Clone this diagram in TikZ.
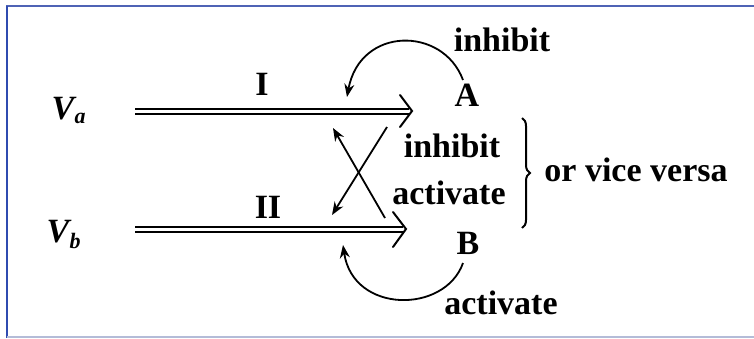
\documentclass[tikz,border=0pt]{standalone}
\usepackage{fontspec}
\setmainfont{Liberation Serif}
\usetikzlibrary{arrows.meta,decorations.pathreplacing}
\definecolor{frameblue}{HTML}{4F63B5}
\definecolor{frameleft}{HTML}{2F4BB0}
\definecolor{framelight}{HTML}{B4BCD8}
\tikzset{
  lbl/.style={inner sep=0pt, font=\fontsize{34}{40}\selectfont\bfseries},
  vlbl/.style={inner sep=0pt, font=\fontsize{34}{40}\selectfont\bfseries\itshape},
  sublbl/.style={inner sep=0pt, font=\fontsize{22}{26}\selectfont\bfseries\itshape},
  dblline/.style={draw=black, line width=2pt, double=white, double distance=3pt},
  barb/.style={line width=2pt, line join=miter, line cap=round},
  sarrow/.style={line width=1.8pt, -{Stealth[length=13pt,width=10pt]}},
}
\begin{document}
\begin{tikzpicture}[x=1pt,y=-1pt]
\useasboundingbox (0,0) rectangle (754,338);
% frame
\draw[frameblue, line width=2pt] (6,6) -- (754,6);
\draw[frameleft, line width=2pt] (7,6) -- (7,338);
\draw[framelight, line width=1.5pt] (7,337) -- (754,337);
% labels
\node[vlbl, anchor=base] (Va) at (63,119) {V};
\node[sublbl, anchor=base west] (Vasub) at (Va.base east) [yshift=-4pt] {a};
\node[vlbl, anchor=base] (Vb) at (58,242) {V};
\node[sublbl, anchor=base west] (Vbsub) at (Vb.base east) [yshift=-6pt] {b};
\node[lbl] (I) at (262,84) {I};
\node[lbl] (II) at (268,207) {II};
\node[lbl] (A) at (467,95) {A};
\node[lbl] (B) at (468,243) {B};
\node[lbl] (inhtop) at (502,40) {inhibit};
\node[lbl] (actbot) at (501,303) {activate};
\node[lbl] (inhmid) at (452,146) {inhibit};
\node[lbl] (actmid) at (449,193) {activate};
\node[lbl] (vice) at (636,170) {or vice versa};
% channel arrows
\coordinate (Is) at (135,111);
\coordinate (Ie) at (409,111);
\coordinate (It) at (412,111);
\coordinate (IIs) at (135,229);
\coordinate (IIe) at (403,229);
\coordinate (IIt) at (406,229);
\draw[dblline] (Is) -- (Ie);
\draw[barb] ([shift={(-12,-16)}]It) -- (It) -- ([shift={(-12,16)}]It);
\draw[dblline] (IIs) -- (IIe);
\draw[barb] ([shift={(-13,-17)}]IIt) -- (IIt) -- ([shift={(-13,18)}]IIt);
% self arcs
\coordinate (Aarc) at (463,80);
\coordinate (Atip) at (347,97);
\draw[sarrow] (Aarc) .. controls (443,26) and (360,26) .. (Atip);
\coordinate (Barc) at (463,263);
\coordinate (Btip) at (343,245);
\draw[sarrow] (Barc) .. controls (445,314) and (353,314) .. (Btip);
% cross arrows
\coordinate (c1s) at (385,218);
\coordinate (c1t) at (333,128);
\coordinate (c2s) at (387,127);
\coordinate (c2t) at (332,215);
\draw[sarrow] (c1s) -- (c1t);
\draw[sarrow] (c2s) -- (c2t);
% brace
\coordinate (brt) at (522,118);
\coordinate (brb) at (522,228);
\draw[line width=2pt, decorate, decoration={brace, amplitude=8pt}] (brt) -- (brb);
\end{tikzpicture}
\end{document}
